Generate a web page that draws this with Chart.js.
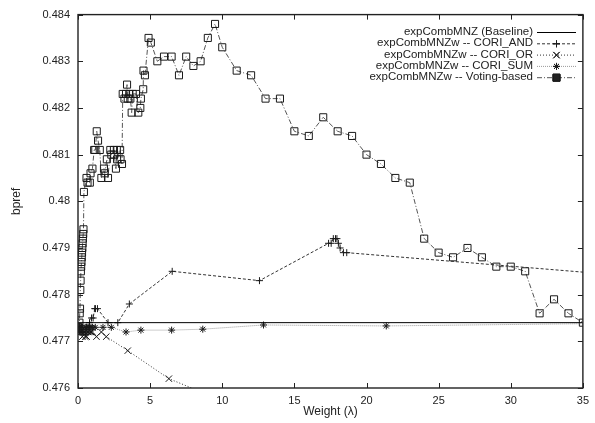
<!DOCTYPE html>
<html>
<head>
<meta charset="utf-8">
<script src="https://cdn.jsdelivr.net/npm/chart.js@4"></script>
<style>
    body { margin: 0; background: #fff; }
    canvas { display: block; }
</style>
</head>
<body>
<canvas id="bpref_chart" width="595" height="423"></canvas>
<script>

// Values
const x_ticks = [0, 5, 10, 15, 20, 25, 30, 35]
const y_ticks = [0.476, 0.477, 0.478, 0.479, 0.48, 0.481, 0.482, 0.483, 0.484]

const series_labels = [
    "expCombMNZ (Baseline)",
    "expCombMNZw -- CORI_AND",
    "expCombMNZw -- CORI_OR",
    "expCombMNZw -- CORI_SUM",
    "expCombMNZw -- Voting-based",
]

const baseline_x = [0, 35]
const baseline_y = [0.4774, 0.4774]

const cori_and_x = [0, 0.1, 0.2, 0.3, 0.4, 0.5, 0.6, 0.7, 0.8, 0.94, 1.05, 1.16, 1.21, 1.35, 2.08, 2.76, 3.56, 6.53, 12.58,
    17.37, 17.55, 17.7, 17.85, 17.95, 18.05, 18.17, 18.4, 18.63, 50]
const cori_and_y = [0.4773, 0.4772, 0.4772, 0.4772, 0.4772, 0.4772, 0.4773, 0.4773, 0.4774, 0.4775, 0.4775, 0.4777, 0.4777, 0.4777,
    0.4774, 0.4774, 0.4778, 0.4785, 0.4783, 0.4791, 0.4791, 0.4792, 0.4792, 0.4792, 0.4791, 0.479, 0.4789, 0.4789, 0.4781]

const cori_or_x = [0, 0.1, 0.2, 0.3, 0.4, 0.5, 0.6, 0.7, 0.8, 0.9, 1.0, 1.28, 1.62, 1.96, 3.45, 6.3, 12.6]
const cori_or_y = [0.4773, 0.4772, 0.4772, 0.4771, 0.4772, 0.4771, 0.4771, 0.4772, 0.4772, 0.4772, 0.4772, 0.4771, 0.4772, 0.4771,
    0.4768, 0.4762, 0.4754]

const cori_sum_x = [0, 0.1, 0.2, 0.3, 0.4, 0.5, 0.6, 0.7, 0.8, 0.9, 1.0, 1.2, 1.73, 2.31, 3.33, 4.36, 6.49, 8.65, 12.86, 21.37, 50]
const cori_sum_y = [0.4773, 0.4773, 0.4772, 0.4773, 0.4772, 0.4773, 0.4773, 0.4772, 0.4773, 0.4773, 0.4773, 0.4773, 0.4773, 0.4773,
    0.4772, 0.47724, 0.47724, 0.47726, 0.47735, 0.47733, 0.47743]

const voting_x = [0, 0.05, 0.1, 0.12, 0.14, 0.16, 0.18, 0.2, 0.22, 0.24, 0.26, 0.28, 0.3, 0.32, 0.34, 0.36, 0.38, 0.41, 0.59, 0.66,
    0.82, 0.87, 1.0, 1.12, 1.2, 1.3, 1.39, 1.51, 1.62, 1.8, 1.85, 2.0, 2.08, 2.24, 2.31, 2.49, 2.51, 2.63, 2.69, 2.71,
    2.92, 2.95, 3.05, 3.1, 3.22, 3.33, 3.4, 3.45, 3.56, 3.63, 3.72, 3.79, 4.02, 4.18, 4.32, 4.36, 4.52, 4.54, 4.64, 4.89,
    5.05, 5.5, 5.96, 6.49, 7.0, 7.5, 8.0, 8.5, 9.0, 9.5, 10, 11, 12, 13, 14, 15, 16, 17, 18, 19, 20, 21, 22, 23, 24, 25,
    26, 27, 28, 29, 30, 31, 32, 33, 34, 35]
const voting_y = [0.4773, 0.4773, 0.4774, 0.4776, 0.4777, 0.4781, 0.4783, 0.4785, 0.4786, 0.4787, 0.4788, 0.4789, 0.479, 0.4791,
    0.4792, 0.4793, 0.4794, 0.4802, 0.4805, 0.4804, 0.4804, 0.4806, 0.4807, 0.4811, 0.4811, 0.4815, 0.4813, 0.4811, 0.4805,
    0.4807, 0.4806, 0.4809, 0.4805, 0.4811, 0.481, 0.4811, 0.481, 0.4807, 0.4811, 0.4809, 0.4811, 0.4809, 0.4808, 0.4823,
    0.4822, 0.4823, 0.4825, 0.4822, 0.4823, 0.4822, 0.4819, 0.4823, 0.4823, 0.4819, 0.482, 0.4822, 0.4824, 0.4828, 0.4827,
    0.4835, 0.4834, 0.483, 0.4831, 0.4831, 0.4827, 0.4831, 0.4829, 0.483, 0.4835, 0.4838, 0.4833, 0.4828, 0.4827, 0.4822,
    0.4822, 0.4815, 0.4814, 0.4818, 0.4815, 0.4814, 0.481, 0.4808, 0.4805, 0.4804, 0.4792, 0.4789, 0.4788, 0.479, 0.4788,
    0.4786, 0.4786, 0.4785, 0.4776, 0.4779, 0.4776, 0.4774]


function to_points(xs, ys)
{
    return xs.map((x, i) => ({ x: x, y: ys[i] }))
}

const font_family = "'Liberation Sans', Arial, Helvetica, sans-serif"

function make_dataset(label, xs, ys, line_color, dash, point_style, point_radius)
{
    return {
        label: label,
        data: to_points(xs, ys),
        showLine: true,
        borderColor: line_color,
        borderWidth: 1,
        borderDash: dash,
        pointStyle: point_style,
        pointRadius: point_radius,
        pointBorderColor: "#1a1a1a",
        pointBackgroundColor: "rgba(0,0,0,0)",
        pointBorderWidth: 1,
        pointHoverRadius: point_radius,
        fill: false,
        tension: 0,
    }
}

const datasets = [
    make_dataset(series_labels[0], baseline_x, baseline_y, "#000", [], false, 0),
    make_dataset(series_labels[1], cori_and_x, cori_and_y, "#333", [3, 2], "cross", 3.5),
    make_dataset(series_labels[2], cori_or_x, cori_or_y, "#333", [1, 2], "crossRot", 4.5),
    make_dataset(series_labels[3], cori_sum_x, cori_sum_y, "#9a9a9a", [1, 1], "star", 3.5),
    make_dataset(series_labels[4], voting_x, voting_y, "#555", [5, 2, 1, 2], "rect", 5),
]

// gnuplot style frame with inward ticks on all four sides
const frame_plugin = {
    id: "frame_plugin",
    afterDatasetsDraw(chart)
    {
        const { ctx, chartArea } = chart
        const x_scale = chart.scales.x
        const y_scale = chart.scales.y
        const tick_len = 5
        ctx.save()
        ctx.strokeStyle = "#222"
        ctx.lineWidth = 1
        ctx.setLineDash([])
        ctx.beginPath()
        x_ticks.forEach(v => {
            const px = Math.round(x_scale.getPixelForValue(v)) + 0.5
            ctx.moveTo(px, chartArea.bottom)
            ctx.lineTo(px, chartArea.bottom - tick_len)
            ctx.moveTo(px, chartArea.top)
            ctx.lineTo(px, chartArea.top + tick_len)
        })
        y_ticks.forEach(v => {
            const py = Math.round(y_scale.getPixelForValue(v)) + 0.5
            ctx.moveTo(chartArea.left, py)
            ctx.lineTo(chartArea.left + tick_len, py)
            ctx.moveTo(chartArea.right, py)
            ctx.lineTo(chartArea.right - tick_len, py)
        })
        ctx.stroke()
        ctx.lineWidth = 1.4
        ctx.strokeRect(chartArea.left, chartArea.top, chartArea.right - chartArea.left, chartArea.bottom - chartArea.top)
        ctx.restore()
    }
}

// key in the top right corner: text right aligned, line sample on the right
const key_plugin = {
    id: "key_plugin",
    afterDraw(chart)
    {
        const ctx = chart.ctx
        const text_right = 533
        const sample_left = 537
        const sample_right = 576
        const row_top = 32
        const row_step = 11.3
        ctx.save()
        ctx.font = "11.5px " + font_family
        ctx.textAlign = "right"
        ctx.textBaseline = "middle"
        chart.data.datasets.forEach((ds, i) => {
            const y = row_top + i * row_step
            ctx.fillStyle = "#222"
            ctx.fillText(ds.label, text_right, y)
            ctx.strokeStyle = ds.borderColor
            ctx.lineWidth = 1
            ctx.setLineDash(ds.borderDash)
            ctx.beginPath()
            ctx.moveTo(sample_left, y + 0.5)
            ctx.lineTo(sample_right, y + 0.5)
            ctx.stroke()
            ctx.setLineDash([])
            if (ds.pointStyle)
            {
                ctx.strokeStyle = ds.pointBorderColor
                Chart.helpers.drawPoint(ctx, {
                    pointStyle: ds.pointStyle,
                    radius: ds.pointRadius,
                    rotation: 0,
                    borderWidth: 1,
                }, (sample_left + sample_right) / 2, y + 0.5)
                ctx.stroke()
            }
        })
        ctx.restore()
    }
}

new Chart(document.getElementById("bpref_chart").getContext("2d"), {
    type: "scatter",
    data: { datasets: datasets },
    options: {
        responsive: false,
        animation: false,
        devicePixelRatio: 1,
        layout: { padding: { left: 0, right: 6, top: 14, bottom: 0 } },
        plugins: {
            legend: { display: false },
            tooltip: { enabled: false },
        },
        scales: {
            x: {
                type: "linear",
                min: 0,
                max: 35,
                afterFit: scale => { scale.height = 35 },
                afterBuildTicks: scale => { scale.ticks = x_ticks.map(v => ({ value: v })) },
                grid: { display: false, drawTicks: false },
                border: { display: false },
                ticks: {
                    color: "#222",
                    padding: 6,
                    font: { family: font_family, size: 11 },
                    callback: v => String(v),
                },
                title: {
                    display: true,
                    text: "Weight (λ)",
                    color: "#222",
                    font: { family: font_family, size: 12 },
                    padding: { top: 0, bottom: 4 },
                },
            },
            y: {
                type: "linear",
                min: 0.476,
                max: 0.484,
                afterFit: scale => { scale.width = 78 },
                afterBuildTicks: scale => { scale.ticks = y_ticks.map(v => ({ value: v })) },
                grid: { display: false, drawTicks: false },
                border: { display: false },
                ticks: {
                    color: "#222",
                    padding: 8,
                    font: { family: font_family, size: 11 },
                    callback: v => String(parseFloat(v.toFixed(3))),
                },
                title: {
                    display: true,
                    text: "bpref",
                    color: "#222",
                    font: { family: font_family, size: 12 },
                    padding: { top: 9, bottom: 0 },
                },
            },
        },
    },
    plugins: [frame_plugin, key_plugin],
})
</script>
</body>
</html>
